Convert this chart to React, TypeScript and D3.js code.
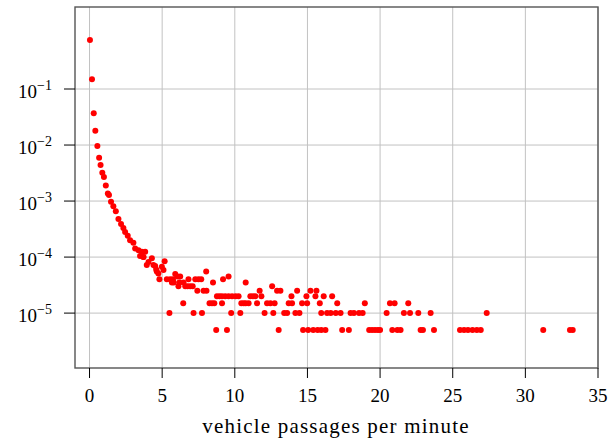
import * as d3 from "d3";

// head of the distribution (x in vehicles/min, y = relative frequency)
const headX = [0.03, 0.17, 0.29, 0.4, 0.54, 0.66, 0.76, 0.88, 0.99, 1.12, 1.26, 1.34, 1.48, 1.64, 1.81, 1.99, 2.17, 2.33, 2.45, 2.63, 2.79, 3.02, 3.14, 3.37, 3.48, 3.6, 3.71, 3.71, 3.83, 3.94, 4.06, 4.29, 4.4, 4.52, 4.59, 4.63, 4.74, 4.81, 4.98, 5.09, 5.17];
const headY = [0.75, 0.149, 0.037, 0.018, 0.0096, 0.0059, 0.0044, 0.0032, 0.0027, 0.0019, 0.00137, 0.00128, 9.7e-4, 8.1e-4, 6.6e-4, 4.8e-4, 3.9e-4, 3.3e-4, 2.8e-4, 2.4e-4, 2.0e-4, 1.8e-4, 1.43e-4, 1.33e-4, 1.04e-4, 1.24e-4, 1.0e-4, 1.0e-4, 1.24e-4, 7.2e-5, 8.2e-5, 9.5e-5, 7.2e-5, 6.9e-5, 6.0e-5, 5.5e-5, 5.1e-5, 4.0e-5, 6.7e-5, 5.9e-5, 8.4e-5];

// tail: x positions per frequency level
const tail5e6 = [8.72, 9.46, 13.02, 14.7, 15.05, 15.4, 15.7, 15.95, 16.24, 17.39, 17.85, 19.25, 19.45, 19.65, 19.85, 20.0, 20.84, 21.19, 21.41, 22.79, 22.95, 23.71, 25.5, 25.78, 26.05, 26.36, 26.66, 26.93, 31.23, 33.07, 33.26];
const tail1e5 = [5.5, 7.16, 7.74, 9.75, 10.38, 12.05, 12.65, 13.4, 13.6, 14.17, 14.45, 15.95, 16.35, 16.6, 16.95, 17.28, 17.97, 18.2, 18.55, 18.8, 20.45, 21.64, 22.06, 22.63, 23.48, 27.34];
const tail15e6 = [6.45, 8.26, 8.43, 8.59, 9.12, 10.45, 10.61, 10.75, 10.95, 11.53, 12.22, 12.45, 12.74, 13.71, 13.94, 14.63, 14.98, 15.85, 17.05, 18.95, 20.68, 21.0, 21.94];
const tail2e5 = [8.77, 8.95, 9.12, 9.34, 9.57, 9.81, 10.05, 10.26, 11.07, 11.25, 11.41, 11.83, 13.9, 14.93, 15.55, 16.12, 16.7];
const tail25e6 = [7.42, 7.85, 8.05, 11.71, 12.91, 13.14, 14.29, 15.21, 15.62];
const tail3e5 = [6.12, 6.59, 6.75, 6.93, 7.1, 12.57];
const tail35e6 = [5.67, 5.8, 6.19, 6.47, 8.5, 10.75];
const tail4e5 = [5.32, 5.55, 5.74, 6.81, 7.28, 7.5, 7.69, 9.19];
const tail45e6 = [6.05, 6.24, 9.57];
const tail5e5 = [5.9];
const tail55e6 = [8.03];

const xTicks = [0, 5, 10, 15, 20, 25, 30, 35];
const yTicks = [-1, -2, -3, -4, -5];

const W = 608;
const H = 439;
const L = 75, R = 598, T = 7, B = 368;
const SERIF = "Liberation Serif";

export default function App() {
  const x = d3.scaleLinear().domain([-1, 35]).range([L, R]);
  const y = d3.scaleLog().domain([Math.pow(10, -5.98), Math.pow(10, 0.464)]).range([B, T]);

  const pts: [number, number][] = headX.map((v, i) => [v, headY[i]]);
  const levels: [number[], number][] = [
    [tail5e6, 5e-6], [tail1e5, 1e-5], [tail15e6, 1.5e-5], [tail2e5, 2e-5],
    [tail25e6, 2.5e-5], [tail3e5, 3e-5], [tail35e6, 3.5e-5], [tail4e5, 4e-5],
    [tail45e6, 4.5e-5], [tail5e5, 5e-5], [tail55e6, 5.5e-5],
  ];
  levels.forEach(([xs, v]) => xs.forEach((xv) => pts.push([xv, v])));

  return (
    <svg width={W} height={H} fontFamily={SERIF} style={{ position: "absolute", left: 0, top: 0, fontFamily: SERIF }}>
      <rect width={W} height={H} fill="#fff" />
      {/* grid */}
      {xTicks.map((t) => (
        <line key={"gx" + t} x1={x(t)} x2={x(t)} y1={T} y2={B} stroke="#c2c2c2" strokeWidth={1} />
      ))}
      {yTicks.map((e) => (
        <line key={"gy" + e} x1={L} x2={R} y1={y(Math.pow(10, e))} y2={y(Math.pow(10, e))} stroke="#c2c2c2" strokeWidth={1} />
      ))}
      {/* points */}
      {pts.map(([a, b], i) => (
        <circle key={i} cx={x(a)} cy={y(b)} r={3} fill="#ff0000" />
      ))}
      {/* frame */}
      <rect x={L} y={T} width={R - L} height={B - T} fill="none" stroke="#555" strokeWidth={1.4} />
      {/* ticks */}
      {xTicks.map((t) => (
        <g key={"tx" + t}>
          <line x1={x(t)} x2={x(t)} y1={B} y2={B + 10} stroke="#000" strokeWidth={1} />
          <text x={x(t)} y={402} textAnchor="middle" fontSize={19} fontFamily={SERIF} style={{ fontFamily: SERIF }}>
            {String(t)}
          </text>
        </g>
      ))}
      {yTicks.map((e) => (
        <g key={"ty" + e}>
          <line x1={L - 11} x2={L} y1={y(Math.pow(10, e))} y2={y(Math.pow(10, e))} stroke="#000" strokeWidth={1} />
          <text x={52} y={y(Math.pow(10, e)) + 9} textAnchor="end" fontSize={19} fontFamily={SERIF} style={{ fontFamily: SERIF }}>
            <tspan>10</tspan>
            <tspan dy={-8} fontSize={14}>{"\u2212" + Math.abs(e)}</tspan>
          </text>
        </g>
      ))}
      <text x={336} y={433} textAnchor="middle" fontSize={21} letterSpacing={1.2} fontFamily={SERIF} style={{ fontFamily: SERIF }}>
        vehicle passages per minute
      </text>
    </svg>
  );
}
